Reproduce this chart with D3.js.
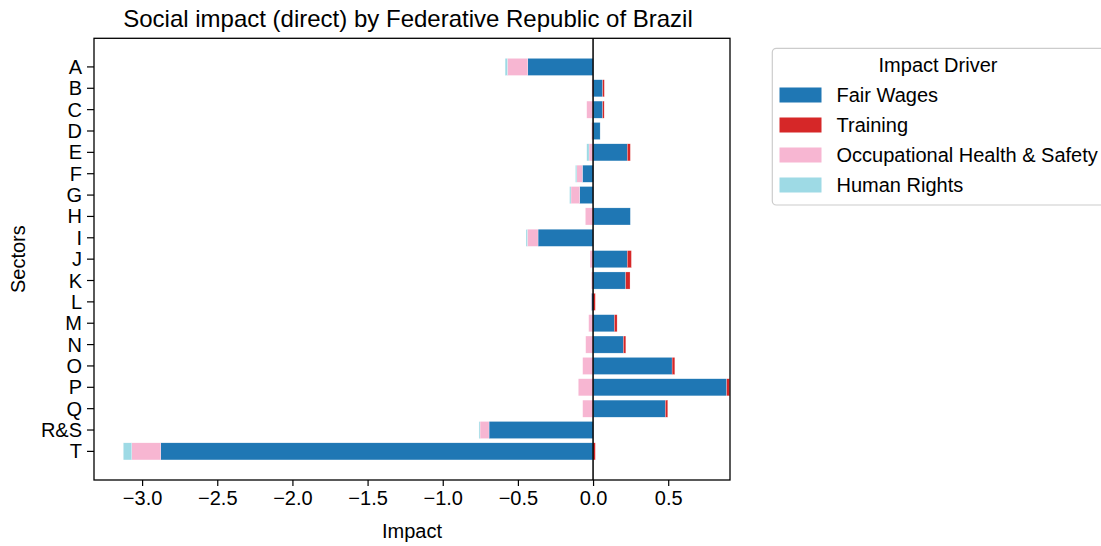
<!DOCTYPE html>
<html>
<head>
<meta charset="utf-8">
<script src="https://cdn.jsdelivr.net/npm/d3@7"></script>
<style>
  body { margin: 0; background: #fff; }
  svg { display: block; font-family: "Liberation Sans", Arial, sans-serif; }
</style>
</head>
<body>
<svg id="chart" width="1101" height="546"></svg>
<script>
const sectors = ["A","B","C","D","E","F","G","H","I","J","K","L","M","N","O","P","Q","R&S","T"];
const fairWages   = [-0.434, 0.064, 0.064, 0.047, 0.228, -0.071, -0.089, 0.248, -0.366, 0.228, 0.217, -0.011, 0.142, 0.202, 0.526, 0.889, 0.481, -0.692, -2.876];
const training    = [0, 0.011, 0.010, 0, 0.020, 0, 0, 0, 0, 0.027, 0.029, 0.015, 0.018, 0.016, 0.018, 0.020, 0.016, 0, 0.015];
const ohs         = [-0.136, -0.008, -0.042, -0.010, -0.027, -0.037, -0.058, -0.051, -0.071, -0.020, -0.011, -0.003, -0.029, -0.049, -0.069, -0.098, -0.069, -0.060, -0.193];
const humanRights = [-0.015, 0, 0, 0, -0.015, -0.009, -0.009, 0, -0.009, 0, 0, 0, 0, 0, 0, 0, 0, -0.007, -0.056];
const seriesNames = ["Fair Wages", "Training", "Occupational Health & Safety", "Human Rights"];
const seriesColors = ["#1f77b4", "#d62728", "#f7b6d2", "#9edae5"];
const xTicks = [-3.0, -2.5, -2.0, -1.5, -1.0, -0.5, 0.0, 0.5];

const seriesValues = [fairWages, training, ohs, humanRights];

const svg = d3.select("#chart");
const pLeft = 94, pRight = 730, pTop = 38.3, pBottom = 480;

const x = d3.scaleLinear().domain([-3.32, 0.911]).range([pLeft, pRight]);
const y = d3.scaleBand().domain(sectors).range([pTop, pBottom]).paddingInner(0.2).paddingOuter(0.94);

// stacked segments (positive and negative stacked separately)
const segs = [];
sectors.forEach((s, i) => {
  let pos = 0, neg = 0;
  seriesValues.forEach((arr, k) => {
    const v = arr[i];
    if (v >= 0) { segs.push({s, k, x0: pos, x1: pos + v}); pos += v; }
    else { segs.push({s, k, x0: neg + v, x1: neg}); neg += v; }
  });
});

svg.append("g").selectAll("rect").data(segs.filter(d => d.x1 - d.x0 > 0)).join("rect")
  .attr("x", d => x(d.x0))
  .attr("width", d => x(d.x1) - x(d.x0))
  .attr("y", d => y(d.s))
  .attr("height", y.bandwidth())
  .attr("fill", d => seriesColors[d.k])
  .attr("stroke", "#ffffff").attr("stroke-width", 0.4).attr("stroke-opacity", 0.6);

// zero line
svg.append("line").attr("x1", x(0)).attr("x2", x(0)).attr("y1", pTop).attr("y2", pBottom)
  .attr("stroke", "#000").attr("stroke-width", 1.5);

// axes
const xAxis = svg.append("g").attr("transform", `translate(0,${pBottom})`)
  .call(d3.axisBottom(x).tickValues(xTicks).tickFormat(d => d3.format(".1f")(d).replace("-", "\u2212")).tickSize(6).tickPadding(5));
const yAxis = svg.append("g").attr("transform", `translate(${pLeft},0)`)
  .call(d3.axisLeft(y).tickSize(7).tickPadding(5));
[xAxis, yAxis].forEach(g => {
  g.select(".domain").remove();
  g.selectAll(".tick line").attr("stroke", "#000").attr("stroke-width", 1.2);
  g.selectAll(".tick text").attr("fill", "#000").style("font-size", "20px").style("font-family", "'Liberation Sans', Arial, sans-serif");
});
yAxis.selectAll(".tick text").attr("dy", "0.35em");

// frame
svg.append("rect").attr("x", pLeft).attr("y", pTop).attr("width", pRight - pLeft).attr("height", pBottom - pTop)
  .attr("fill", "none").attr("stroke", "#000").attr("stroke-width", 1.3);

// title and labels
svg.append("text").attr("x", 408).attr("y", 26.5).attr("text-anchor", "middle")
  .style("font-size", "24px").text("Social impact (direct) by Federative Republic of Brazil");
svg.append("text").attr("x", (pLeft + pRight) / 2).attr("y", 538).attr("text-anchor", "middle")
  .style("font-size", "20px").text("Impact");
svg.append("text").attr("transform", `translate(25,${(pTop + pBottom) / 2}) rotate(-90)`).attr("text-anchor", "middle")
  .style("font-size", "20px").text("Sectors");

// legend
const lg = svg.append("g");
lg.append("rect").attr("x", 772.3).attr("y", 48.3).attr("width", 340).attr("height", 156.7).attr("rx", 4)
  .attr("fill", "#fff").attr("fill-opacity", 0.8).attr("stroke", "#cccccc").attr("stroke-width", 1.2);
lg.append("text").attr("x", 938).attr("y", 71.5).attr("text-anchor", "middle").style("font-size", "20px").text("Impact Driver");
seriesNames.forEach((n, i) => {
  const cy = 95 + i * 30;
  lg.append("rect").attr("x", 779.5).attr("y", cy - 7.5).attr("width", 42).attr("height", 15).attr("fill", seriesColors[i]);
  lg.append("text").attr("x", 836.5).attr("y", cy + 7.2).style("font-size", "20px").text(n);
});
</script>
</body>
</html>
